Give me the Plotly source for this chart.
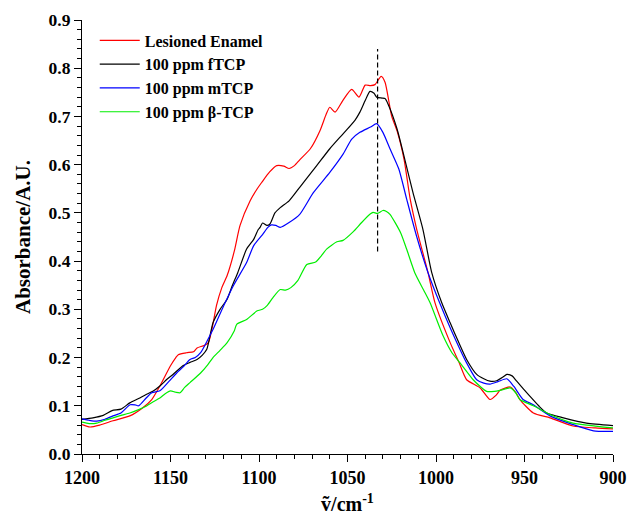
import plotly.graph_objects as go

# ---- data ----
series_names = ["Lesioned Enamel", "100 ppm fTCP", "100 ppm mTCP", "100 ppm β-TCP"]
series_colors = ["#ff0000", "#000000", "#0000ff", "#00ee00"]

red_x = [1200, 1195.5, 1190, 1182.5, 1173, 1166, 1160.6, 1156, 1150, 1147, 1145.6, 1141, 1137, 1135,
         1131, 1128.6, 1126, 1124, 1121, 1118, 1114, 1110.7, 1105, 1101, 1098.5, 1094, 1090, 1086,
         1083, 1080, 1077, 1071, 1065.5, 1062, 1060, 1057, 1052.5, 1047.6, 1043.5, 1040, 1037,
         1034.5, 1031, 1028.8, 1025, 1022, 1018, 1014.6, 1010.9, 1004.5, 1000.6, 992, 987, 982.7,
         975, 969.5, 966, 963.8, 958, 955, 952.6, 945, 935.6, 922.6, 910, 900]
red_y = [0.061, 0.056, 0.060, 0.069, 0.079, 0.095, 0.113, 0.141, 0.183, 0.200, 0.206, 0.210, 0.212,
         0.220, 0.225, 0.231, 0.270, 0.308, 0.345, 0.370, 0.420, 0.474, 0.525, 0.550, 0.563, 0.585,
         0.598, 0.597, 0.592, 0.598, 0.610, 0.633, 0.671, 0.705, 0.719, 0.709, 0.734, 0.756, 0.740,
         0.765, 0.764, 0.766, 0.783, 0.771, 0.700, 0.670, 0.610, 0.529, 0.466, 0.376, 0.314, 0.231,
         0.190, 0.154, 0.137, 0.113, 0.122, 0.132, 0.139, 0.128, 0.113, 0.085, 0.075, 0.058, 0.054,
         0.052]

black_x = [1200, 1193.8, 1188, 1183, 1178, 1173, 1168, 1164, 1160, 1156, 1152, 1148.6, 1143, 1139,
           1135, 1132, 1129.5, 1126, 1122, 1118, 1115, 1112, 1107, 1103, 1100.5, 1099.4, 1098,
           1095.5, 1093.8, 1091, 1088, 1083, 1077, 1067.4, 1060, 1052.5, 1045.8, 1043, 1040,
           1037.3, 1035, 1033.5, 1030.5, 1028.8, 1027, 1022, 1017.5, 1013, 1007.4, 1002.4, 996.8,
           992, 987, 982.7, 977, 973, 969.5, 965.7, 962, 960, 957, 954.4, 947, 942, 937.5, 928,
           915, 900]
black_y = [0.072, 0.075, 0.080, 0.090, 0.093, 0.106, 0.115, 0.123, 0.130, 0.141, 0.155, 0.165,
           0.183, 0.190, 0.196, 0.205, 0.217, 0.272, 0.300, 0.321, 0.350, 0.376, 0.425, 0.445,
           0.465, 0.470, 0.479, 0.474, 0.477, 0.500, 0.511, 0.525, 0.553, 0.598, 0.633, 0.664,
           0.692, 0.709, 0.733, 0.752, 0.748, 0.740, 0.738, 0.737, 0.725, 0.674, 0.609, 0.542,
           0.466, 0.376, 0.314, 0.272, 0.230, 0.196, 0.165, 0.156, 0.151, 0.152, 0.160, 0.165,
           0.162, 0.151, 0.120, 0.100, 0.085, 0.075, 0.064, 0.059]

blue_x = [1200, 1196, 1191.7, 1187, 1182.5, 1178, 1172.9, 1170, 1168, 1164, 1160.6, 1156, 1151,
          1146.5, 1143, 1139, 1136, 1133, 1128.8, 1126, 1120, 1114.5, 1107, 1103, 1098, 1095,
          1093, 1090.5, 1088, 1083, 1077, 1069.3, 1060, 1052.5, 1047.6, 1043, 1037, 1033.5,
          1030, 1026, 1021, 1016.6, 1011, 1004.5, 998, 992, 982.7, 977, 973, 969.5, 965, 960,
          956, 950.8, 945, 935.6, 922.6, 911, 900]
blue_y = [0.073, 0.070, 0.068, 0.072, 0.079, 0.085, 0.102, 0.102, 0.100, 0.115, 0.127, 0.131,
          0.150, 0.168, 0.180, 0.196, 0.200, 0.210, 0.238, 0.258, 0.307, 0.349, 0.397, 0.432,
          0.455, 0.470, 0.475, 0.474, 0.470, 0.480, 0.497, 0.542, 0.584, 0.622, 0.653, 0.667,
          0.678, 0.685, 0.667, 0.633, 0.591, 0.529, 0.452, 0.376, 0.314, 0.262, 0.189, 0.154,
          0.147, 0.145, 0.150, 0.156, 0.140, 0.113, 0.102, 0.079, 0.061, 0.048, 0.047]

green_x = [1200, 1196, 1191.7, 1187, 1182.5, 1178, 1173, 1168, 1164.4, 1160, 1156, 1153, 1150,
           1147, 1144.6, 1142, 1139, 1133, 1129, 1126, 1122, 1118, 1114, 1112.6, 1107, 1101,
           1098, 1095.6, 1092, 1088, 1085, 1082, 1078, 1073, 1068, 1065, 1061.8, 1056, 1052.5,
           1047, 1042, 1037, 1035.6, 1033, 1030, 1028, 1026, 1020, 1016.6, 1012, 1007, 1003.4,
           996, 991, 986.4, 979, 975, 971.4, 967, 963.8, 958, 955, 952.6, 945, 935.6, 922.6,
           910, 900]
green_y = [0.066, 0.063, 0.064, 0.070, 0.075, 0.080, 0.085, 0.092, 0.098, 0.108, 0.116, 0.125,
           0.131, 0.128, 0.127, 0.138, 0.148, 0.168, 0.185, 0.200, 0.215, 0.231, 0.255, 0.269,
           0.279, 0.297, 0.300, 0.307, 0.325, 0.341, 0.340, 0.345, 0.360, 0.393, 0.398, 0.410,
           0.425, 0.440, 0.443, 0.460, 0.480, 0.498, 0.501, 0.499, 0.505, 0.503, 0.497, 0.459,
           0.425, 0.376, 0.340, 0.314, 0.245, 0.210, 0.189, 0.154, 0.140, 0.130, 0.130, 0.132,
           0.137, 0.127, 0.113, 0.100, 0.082, 0.064, 0.058, 0.054]

# dashed marker line at the band maximum
peak_x = 1033
peak_y_range = [0.42, 0.84]

x_range = [1200, 900]
y_range = [0, 0.9]

FONT = "Liberation Serif, Times New Roman, serif"

fig = go.Figure()
for name, color, xs, ys in zip(series_names, series_colors,
                               [red_x, black_x, blue_x, green_x],
                               [red_y, black_y, blue_y, green_y]):
    fig.add_trace(go.Scatter(x=xs, y=ys, mode="lines", name=name,
                             line=dict(color=color, width=1.2, shape="spline", smoothing=0.6)))

fig.add_trace(go.Scatter(x=[peak_x, peak_x], y=peak_y_range, mode="lines", showlegend=False,
                         line=dict(color="black", width=1.2, dash="5px,3px"), hoverinfo="skip"))

base_x = dict(range=x_range, autorange=False, showgrid=False, zeroline=False,
              showline=True, linecolor="black", linewidth=1.2,
              tickwidth=1.2, tickcolor="black", dtick=50, tick0=900)
base_y = dict(range=y_range, autorange=False, showgrid=False, zeroline=False,
              showline=True, linecolor="black", linewidth=1.2,
              tickwidth=1.2, tickcolor="black", dtick=0.1, tick0=0)

fig.update_layout(
    template="none",
    width=627, height=517,
    margin=dict(l=82, r=14, t=20, b=63, autoexpand=False),
    paper_bgcolor="white", plot_bgcolor="white",
    font=dict(family=FONT, size=16, color="black"),
    xaxis=dict(**base_x, ticks="outside", ticklen=7, tickformat="d",
               minor=dict(dtick=10, ticks="outside", ticklen=4, tickcolor="black", tickwidth=1),
               tickfont=dict(family=FONT, size=18, color="black", weight="bold"),
               title=dict(text="ṽ/cm<sup>-1</sup>", standoff=10,
                          font=dict(family=FONT, size=20, color="black", weight="bold"))),
    yaxis=dict(**base_y, ticks="outside", ticklen=7, tickformat=".1f",
               minor=dict(dtick=0.02, ticks="outside", ticklen=4, tickcolor="black", tickwidth=1),
               tickfont=dict(family=FONT, size=17.5, color="black", weight="bold"),
               title=dict(text="Absorbance/A.U.", standoff=12,
                          font=dict(family=FONT, size=21, color="black", weight="bold"))),
    xaxis2=dict(**base_x, overlaying="x", side="top", anchor="y", ticks="inside", ticklen=4,
                showticklabels=False,
                minor=dict(dtick=10, ticks="inside", ticklen=3, tickcolor="black", tickwidth=1)),
    yaxis2=dict(**base_y, overlaying="y", side="right", anchor="x", ticks="inside", ticklen=4,
                showticklabels=False,
                minor=dict(dtick=0.02, ticks="inside", ticklen=3, tickcolor="black", tickwidth=1)),
    legend=dict(x=0.024, y=0.992, xanchor="left", yanchor="top", bgcolor="rgba(0,0,0,0)",
                font=dict(family=FONT, size=16, color="black", weight="bold"),
                tracegroupgap=0, itemwidth=40),
    showlegend=True,
)

fig.write_html("out.html", config={"displayModeBar": False},
               post_script="document.body.style.margin='0';document.body.style.overflow='hidden';")
